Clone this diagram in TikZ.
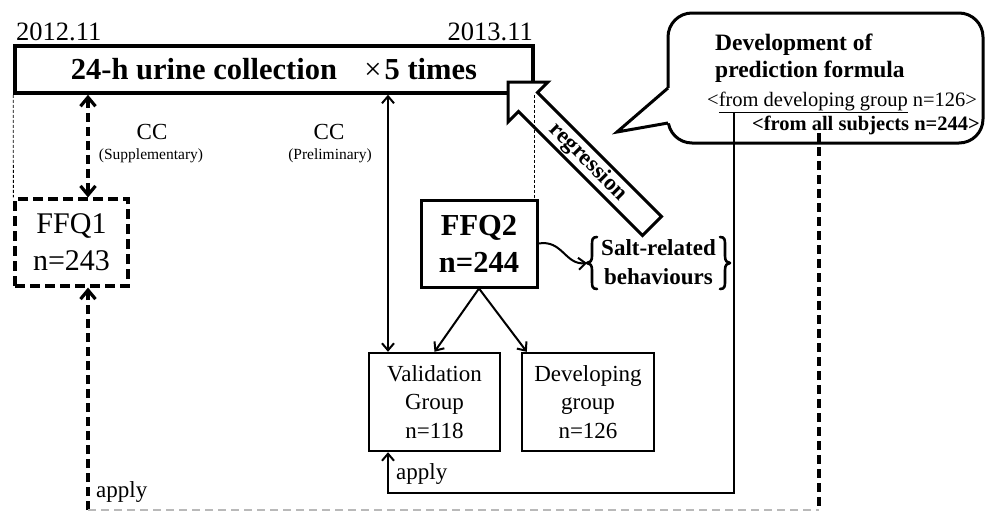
\documentclass[tikz,border=0pt]{standalone}
\usepackage{fontspec}
\setmainfont{Liberation Serif}
\usetikzlibrary{arrows.meta}
\begin{document}
\begin{tikzpicture}[x=1pt,y=-1pt,
  thickbox/.style={draw, line width=3pt, inner sep=0pt, align=center},
  medbox/.style={draw, line width=2.4pt, inner sep=0pt, align=center},
  lbl/.style={inner sep=0pt},
  arr/.style={line width=2pt, -{Straight Barb[length=7pt,width=12pt]}},
  darr/.style={line width=2pt, {Straight Barb[length=7pt,width=12pt]}-{Straight Barb[length=7pt,width=12pt]}},
  dashthick/.style={line width=3.2pt, dash pattern=on 9pt off 5pt},
  guide/.style={line width=0.8pt, dash pattern=on 3pt off 2pt},
  greyline/.style={line width=1.5pt, gray!55, dash pattern=on 8pt off 5pt},
  bracepath/.style={line width=2.6pt, line cap=round, line join=round}
]
\useasboundingbox (0,0) rectangle (985,512);

% top box
\node[thickbox, line width=3.5pt, minimum width=518pt, minimum height=47pt,
      font=\fontsize{30.5}{36}\selectfont\bfseries] (top) at (274,69.5)
  {24-h urine collection\hspace{0.9em}{\mdseries\texttimes}\hspace{0.1em}5 times};
\node[lbl, anchor=base west, font=\fontsize{26.5}{30}\selectfont] (d1) at (16,40) {2012.11};
\node[lbl, anchor=base east, font=\fontsize{26.5}{30}\selectfont] (d2) at (533,40) {2013.11};

% FFQ boxes
\node[thickbox, dash pattern=on 10pt off 5pt, line width=3.2pt, minimum width=113pt, minimum height=87pt,
      font=\fontsize{30}{37}\selectfont] (ffq1) at (71.5,242.5) {FFQ1\\n=243};
\node[thickbox, minimum width=116pt, minimum height=87pt,
      font=\fontsize{30.5}{37}\selectfont\bfseries] (ffq2) at (479,243.5) {FFQ2\\n=244};

% group boxes
\node[medbox, minimum width=131pt, minimum height=98pt,
      font=\fontsize{23}{28.5}\selectfont] (val) at (434.5,402) {Validation\\Group\\n=118};
\node[medbox, minimum width=132pt, minimum height=98pt,
      font=\fontsize{23}{28.5}\selectfont] (dev) at (588,402) {Developing\\group\\n=126};

% salt related with braces
\node[lbl, align=center, font=\fontsize{23}{29}\selectfont\bfseries] (salt) at (658.5,262)
  {Salt-related\\behaviours};
\coordinate (bl) at (587,263);
\draw[bracepath] (597,237) .. controls (592,237) and (592,240) .. (592,245) -- (592,256)
  .. controls (592,261) and (590,263) .. (bl)
  .. controls (590,263) and (592,265) .. (592,270) -- (592,281)
  .. controls (592,286) and (592,289) .. (597,289);
\draw[bracepath] (720,237) .. controls (725,237) and (725,240) .. (725,245) -- (725,256)
  .. controls (725,261) and (727,263) .. (730,263)
  .. controls (727,263) and (725,265) .. (725,270) -- (725,281)
  .. controls (725,286) and (725,289) .. (720,289);

% CC labels
\node[lbl, font=\fontsize{23}{26}\selectfont] (cc1) at (152,132) {CC};
\node[lbl, font=\fontsize{15.5}{18}\selectfont] (sup) at (151,156) {(Supplementary)};
\node[lbl, font=\fontsize{23}{26}\selectfont] (cc2) at (329,132) {CC};
\node[lbl, font=\fontsize{15.5}{18}\selectfont] (pre) at (330,156) {(Preliminary)};

% regression block arrow
\draw[line width=3pt, fill=white, line join=miter]
  (508,82) -- (548,82) -- (537.5,92.5) -- (661.5,216.5) -- (642.5,235.5)
  -- (518.5,111.5) -- (508,122) -- cycle;
\node[lbl, rotate=-45, font=\fontsize{23}{26}\selectfont\bfseries] (reg) at (588,162) {regression};

% callout
\draw[line width=3pt, fill=white, rounded corners=24pt] (668,13) rectangle (983,143);
\fill[white] (617,132) -- (668,88) -- (672,88) -- (672,123) -- (668,123) -- cycle;
\draw[line width=3pt, line join=miter] (668,88) -- (617,132) -- (668,123);
\node[lbl, anchor=base west, font=\fontsize{23.5}{28}\selectfont\bfseries] (c1) at (715,50) {Development of};
\node[lbl, anchor=base west, font=\fontsize{23.5}{28}\selectfont\bfseries] (c2) at (715,77) {prediction formula};
\node[lbl, anchor=base west, font=\fontsize{20.5}{24}\selectfont] (c3) at (707,106) {<\underline{from developing group} n=126>};
\node[lbl, anchor=base east, font=\fontsize{20.5}{24}\selectfont\bfseries] (c4) at (980,130) {<from all subjects n=244>};

% guide lines
\draw[guide] (top.south west) -- (ffq1.north west);
\draw[guide] (top.south east) -- (top.south east |- ffq2.north);

% coordinates
\coordinate (xl) at (88,510);
\coordinate (xr) at (819,510);
\coordinate (allsrc) at (819,133);
\coordinate (devsrc) at (734,112);
\coordinate (bend1) at (734,493);
\coordinate (bend2) at (388,493);

% connectors
\draw[dashthick, line width=3.2pt, {Straight Barb[length=9pt,width=15pt]}-{Straight Barb[length=9pt,width=15pt]}]
  (top.south -| xl) -- (ffq1.north -| xl);
\draw[dashthick, -{Straight Barb[length=9pt,width=15pt]}] (xl) -- (ffq1.south -| xl);
\draw[dashthick] (allsrc) -- (xr);
\draw[greyline] (xl) -- (xr);
\draw[darr] (top.south -| bend2) -- (val.north -| bend2);
\draw[arr] (ffq2.south) -- (val.north);
\draw[arr] (ffq2.south) -- ([xshift=6pt]dev.north west);
\draw[arr] (ffq2.east) .. controls +(24,-4) and +(-22,2) .. (bl);
\draw[arr] (devsrc) -- (bend1) -- (bend2) -- (bend2 |- val.south);

\node[lbl, anchor=base west, font=\fontsize{23}{26}\selectfont] (ap1) at (96,497) {apply};
\node[lbl, anchor=base west, font=\fontsize{23}{26}\selectfont] (ap2) at (396,479) {apply};
\end{tikzpicture}
\end{document}
